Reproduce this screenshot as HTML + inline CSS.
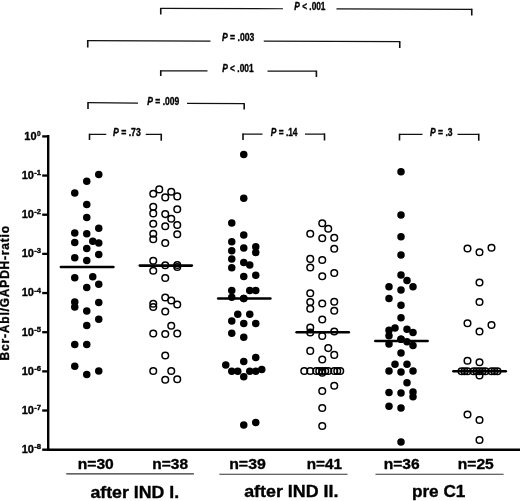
<!DOCTYPE html>
<html><head><meta charset="utf-8"><title>Bcr-Abl/GAPDH-ratio</title>
<style>
html,body{margin:0;padding:0;background:#fff;}
svg{display:block;}
text{font-family:"Liberation Sans",Arial,Helvetica,sans-serif;font-weight:bold;fill:#000;stroke:#000;stroke-width:0.35px;stroke-linejoin:round;}
.f{fill:#000;}
.o{fill:#fff;fill-opacity:0;stroke:#000;stroke-width:1.5;}
.br{fill:none;stroke:#111;stroke-width:1.25;}
.bt{fill:none;stroke:#111;stroke-width:1.6;}
.md{stroke:#000;stroke-width:2.6;stroke-linecap:round;}
.ax{stroke:#000;stroke-width:2.4;fill:none;}
.p{font-size:10px;}
.n{font-size:14.5px;}
.g{font-size:16.5px;}
.t{font-size:11px;}
.s{font-size:6.5px;}
</style></head><body>
<svg width="520" height="501" viewBox="0 0 520 501">
<rect x="0" y="0" width="520" height="501" fill="#fff"/>

<path class="br" d="M160.35,8.4 L283,8.75 M336.5,8.91 L472.15,9.3"/>
<path class="bt" d="M160.75,14.5 L160.75,7.9 M471.75,8.8 L471.75,15.5"/>
<path class="br" d="M87.35,40.6 L210.5,41.03 M263.75,41.22 L400.15,41.7"/>
<path class="bt" d="M87.75,47.5 L87.75,40.1 M399.75,41.2 L399.75,48"/>
<path class="br" d="M160.35,70.8 L207.5,70.92 M267.5,71.07 L316.79999999999995,71.2"/>
<path class="bt" d="M160.75,76 L160.75,70.3 M316.4,70.7 L316.4,77"/>
<path class="br" d="M87.6,102.7 L138,103.02 M187,103.33 L244.6,103.7"/>
<path class="bt" d="M88,108.9 L88,102.2 M244.2,103.2 L244.2,109.5"/>
<path class="br" d="M89.1,134.25 L106.25,134.25 M145.75,134.25 L161.65,134.25"/>
<path class="bt" d="M89.5,140 L89.5,133.75 M161.25,133.75 L161.25,140.75"/>
<path class="br" d="M242.6,134 L262.5,134.00 M305,134.00 L324.9,134"/>
<path class="bt" d="M243,140 L243,133.5 M324.5,133.5 L324.5,140.5"/>
<path class="br" d="M399.1,134.25 L422.5,134.25 M457.5,134.25 L479.15,134.25"/>
<path class="bt" d="M399.5,140.5 L399.5,133.75 M478.75,133.75 L478.75,140.75"/>
<text class="p" x="294.3" y="10.2" textLength="31.2" lengthAdjust="spacingAndGlyphs"><tspan font-style="italic">P</tspan> &lt; .001</text>
<text class="p" x="222" y="40.9" textLength="32.2" lengthAdjust="spacingAndGlyphs"><tspan font-style="italic">P</tspan> = .003</text>
<text class="p" x="222.2" y="72.3" textLength="31.4" lengthAdjust="spacingAndGlyphs"><tspan font-style="italic">P</tspan> &lt; .001</text>
<text class="p" x="147.3" y="104.6" textLength="32.0" lengthAdjust="spacingAndGlyphs"><tspan font-style="italic">P</tspan> = .009</text>
<text class="p" x="113" y="135.8" textLength="27.8" lengthAdjust="spacingAndGlyphs"><tspan font-style="italic">P</tspan> = .73</text>
<text class="p" x="270.75" y="135.8" textLength="26.8" lengthAdjust="spacingAndGlyphs"><tspan font-style="italic">P</tspan> = .14</text>
<text class="p" x="430" y="135.8" textLength="22.5" lengthAdjust="spacingAndGlyphs"><tspan font-style="italic">P</tspan> = .3</text>
<path class="ax" d="M48.2,135.1 L48.2,449.7 L520,449.7"/>
<line x1="42.2" y1="136.40" x2="48" y2="136.40" stroke="#000" stroke-width="2.3"/>
<text class="t" x="36.6" y="139.80" text-anchor="end">10</text><text class="s" x="36.9" y="135.90">0</text>
<line x1="42.2" y1="175.56" x2="48" y2="175.56" stroke="#000" stroke-width="2.3"/>
<text class="t" x="33.9" y="178.96" text-anchor="end">10</text><text class="s" x="34.2" y="175.06" textLength="6.8" lengthAdjust="spacingAndGlyphs">-1</text>
<line x1="42.2" y1="214.72" x2="48" y2="214.72" stroke="#000" stroke-width="2.3"/>
<text class="t" x="33.9" y="218.12" text-anchor="end">10</text><text class="s" x="34.2" y="214.22" textLength="6.8" lengthAdjust="spacingAndGlyphs">-2</text>
<line x1="42.2" y1="253.88" x2="48" y2="253.88" stroke="#000" stroke-width="2.3"/>
<text class="t" x="33.9" y="257.28" text-anchor="end">10</text><text class="s" x="34.2" y="253.38" textLength="6.8" lengthAdjust="spacingAndGlyphs">-3</text>
<line x1="42.2" y1="293.04" x2="48" y2="293.04" stroke="#000" stroke-width="2.3"/>
<text class="t" x="33.9" y="296.44" text-anchor="end">10</text><text class="s" x="34.2" y="292.54" textLength="6.8" lengthAdjust="spacingAndGlyphs">-4</text>
<line x1="42.2" y1="332.20" x2="48" y2="332.20" stroke="#000" stroke-width="2.3"/>
<text class="t" x="33.9" y="335.60" text-anchor="end">10</text><text class="s" x="34.2" y="331.70" textLength="6.8" lengthAdjust="spacingAndGlyphs">-5</text>
<line x1="42.2" y1="371.36" x2="48" y2="371.36" stroke="#000" stroke-width="2.3"/>
<text class="t" x="33.9" y="374.76" text-anchor="end">10</text><text class="s" x="34.2" y="370.86" textLength="6.8" lengthAdjust="spacingAndGlyphs">-6</text>
<line x1="42.2" y1="410.52" x2="48" y2="410.52" stroke="#000" stroke-width="2.3"/>
<text class="t" x="33.9" y="413.92" text-anchor="end">10</text><text class="s" x="34.2" y="410.02" textLength="6.8" lengthAdjust="spacingAndGlyphs">-7</text>
<line x1="42.2" y1="449.7" x2="48" y2="449.7" stroke="#000" stroke-width="2.4"/>
<text class="t" x="33.9" y="453.08" text-anchor="end">10</text><text class="s" x="34.2" y="449.18" textLength="6.8" lengthAdjust="spacingAndGlyphs">-8</text>
<text transform="translate(9.4,360.4) rotate(-90)" font-size="12px" textLength="134.5" lengthAdjust="spacing">Bcr-Abl/GAPDH-ratio</text>
<line class="md" x1="60.9" y1="267" x2="113.4" y2="267"/>
<line class="md" x1="139.8" y1="265.6" x2="191.8" y2="265.6"/>
<line class="md" x1="218.2" y1="298.5" x2="270.4" y2="298.5"/>
<line class="md" x1="296.6" y1="332.3" x2="348.8" y2="332.3"/>
<line class="md" x1="375.3" y1="341" x2="427.6" y2="341"/>
<line class="md" x1="453.4" y1="371.25" x2="505.8" y2="371.25"/>
<circle class="f" cx="98.75" cy="174.5" r="3.75"/>
<circle class="f" cx="86.75" cy="181.25" r="3.75"/>
<circle class="f" cx="74.75" cy="193" r="3.75"/>
<circle class="f" cx="86.75" cy="204.5" r="3.75"/>
<circle class="f" cx="86.75" cy="217.6" r="3.75"/>
<circle class="f" cx="98.75" cy="228.25" r="3.75"/>
<circle class="f" cx="74.75" cy="233" r="3.75"/>
<circle class="f" cx="86.75" cy="233.75" r="3.75"/>
<circle class="f" cx="92.75" cy="241.25" r="3.75"/>
<circle class="f" cx="74.75" cy="242.5" r="3.75"/>
<circle class="f" cx="98.75" cy="243" r="3.75"/>
<circle class="f" cx="86.75" cy="248.5" r="3.75"/>
<circle class="f" cx="98.75" cy="254.5" r="3.75"/>
<circle class="f" cx="74.75" cy="257.75" r="3.75"/>
<circle class="f" cx="86.75" cy="260.6" r="3.75"/>
<circle class="f" cx="74.75" cy="277.8" r="3.75"/>
<circle class="f" cx="92.75" cy="276.75" r="3.75"/>
<circle class="f" cx="98.75" cy="284.25" r="3.75"/>
<circle class="f" cx="86.75" cy="287.4" r="3.75"/>
<circle class="f" cx="74.75" cy="302" r="3.75"/>
<circle class="f" cx="98.75" cy="302.5" r="3.75"/>
<circle class="f" cx="74.75" cy="307" r="3.75"/>
<circle class="f" cx="86.75" cy="311" r="3.75"/>
<circle class="f" cx="98.75" cy="319.25" r="3.75"/>
<circle class="f" cx="86.75" cy="325.5" r="3.75"/>
<circle class="f" cx="74.75" cy="344.5" r="3.75"/>
<circle class="f" cx="86.75" cy="344.5" r="3.75"/>
<circle class="f" cx="74.75" cy="366.25" r="3.75"/>
<circle class="f" cx="98.75" cy="371" r="3.75"/>
<circle class="f" cx="86.75" cy="374.5" r="3.75"/>
<circle class="o" cx="159.25" cy="189.4" r="3.3"/>
<circle class="o" cx="153.25" cy="193.7" r="3.3"/>
<circle class="o" cx="171.25" cy="191.8" r="3.3"/>
<circle class="o" cx="165.25" cy="197.4" r="3.3"/>
<circle class="o" cx="177.25" cy="196.4" r="3.3"/>
<circle class="o" cx="153.25" cy="206.7" r="3.3"/>
<circle class="o" cx="177.25" cy="209.2" r="3.3"/>
<circle class="o" cx="153.25" cy="213.4" r="3.3"/>
<circle class="o" cx="165.25" cy="214.1" r="3.3"/>
<circle class="o" cx="171.25" cy="218.7" r="3.3"/>
<circle class="o" cx="153.25" cy="223.8" r="3.3"/>
<circle class="o" cx="177.25" cy="225" r="3.3"/>
<circle class="o" cx="165.25" cy="226.2" r="3.3"/>
<circle class="o" cx="153.25" cy="233.8" r="3.3"/>
<circle class="o" cx="177.25" cy="234.2" r="3.3"/>
<circle class="o" cx="153.25" cy="239.2" r="3.3"/>
<circle class="o" cx="165.25" cy="243" r="3.3"/>
<circle class="o" cx="153.25" cy="260.7" r="3.3"/>
<circle class="o" cx="165.25" cy="265.2" r="3.3"/>
<circle class="o" cx="177.25" cy="265" r="3.3"/>
<circle class="o" cx="177.25" cy="267" r="3.3"/>
<circle class="o" cx="153.25" cy="270.7" r="3.3"/>
<circle class="o" cx="165.25" cy="278" r="3.3"/>
<circle class="o" cx="165.25" cy="297.5" r="3.3"/>
<circle class="o" cx="171.25" cy="300.5" r="3.3"/>
<circle class="o" cx="153.25" cy="303.75" r="3.3"/>
<circle class="o" cx="177.25" cy="304.5" r="3.3"/>
<circle class="o" cx="153.25" cy="307" r="3.3"/>
<circle class="o" cx="165.25" cy="311.5" r="3.3"/>
<circle class="o" cx="171.25" cy="325.75" r="3.3"/>
<circle class="o" cx="153.25" cy="333.5" r="3.3"/>
<circle class="o" cx="165.25" cy="334" r="3.3"/>
<circle class="o" cx="177.25" cy="333.5" r="3.3"/>
<circle class="o" cx="165.25" cy="355.5" r="3.3"/>
<circle class="o" cx="153.25" cy="371" r="3.3"/>
<circle class="o" cx="171.25" cy="371" r="3.3"/>
<circle class="o" cx="165.25" cy="379.75" r="3.3"/>
<circle class="o" cx="177.25" cy="379.25" r="3.3"/>
<circle class="f" cx="243.75" cy="154.5" r="3.75"/>
<circle class="f" cx="243.75" cy="198.25" r="3.75"/>
<circle class="f" cx="231.75" cy="222.9" r="3.75"/>
<circle class="f" cx="243.75" cy="235" r="3.75"/>
<circle class="f" cx="231.75" cy="241.7" r="3.75"/>
<circle class="f" cx="243.75" cy="248" r="3.75"/>
<circle class="f" cx="255.75" cy="246.8" r="3.75"/>
<circle class="f" cx="231.75" cy="250.7" r="3.75"/>
<circle class="f" cx="255.75" cy="252.6" r="3.75"/>
<circle class="f" cx="231.75" cy="258.9" r="3.75"/>
<circle class="f" cx="243.75" cy="262.5" r="3.75"/>
<circle class="f" cx="249.75" cy="264.9" r="3.75"/>
<circle class="f" cx="231.75" cy="267.8" r="3.75"/>
<circle class="f" cx="255.75" cy="275.2" r="3.75"/>
<circle class="f" cx="243.75" cy="276.6" r="3.75"/>
<circle class="f" cx="231.75" cy="290.4" r="3.75"/>
<circle class="f" cx="249.75" cy="290.4" r="3.75"/>
<circle class="f" cx="255.75" cy="290.4" r="3.75"/>
<circle class="f" cx="231.75" cy="297.2" r="3.75"/>
<circle class="f" cx="243.75" cy="298.6" r="3.75"/>
<circle class="f" cx="237.75" cy="314.3" r="3.75"/>
<circle class="f" cx="249.75" cy="314.3" r="3.75"/>
<circle class="f" cx="231.75" cy="320.9" r="3.75"/>
<circle class="f" cx="243.75" cy="323.5" r="3.75"/>
<circle class="f" cx="255.75" cy="323.5" r="3.75"/>
<circle class="f" cx="231.75" cy="333.3" r="3.75"/>
<circle class="f" cx="243.75" cy="337.2" r="3.75"/>
<circle class="f" cx="255.75" cy="357.5" r="3.75"/>
<circle class="f" cx="243.75" cy="361.6" r="3.75"/>
<circle class="f" cx="225.75" cy="365" r="3.75"/>
<circle class="f" cx="231.75" cy="371.2" r="3.75"/>
<circle class="f" cx="237.75" cy="371.2" r="3.75"/>
<circle class="f" cx="249.75" cy="371.2" r="3.75"/>
<circle class="f" cx="255.75" cy="371.2" r="3.75"/>
<circle class="f" cx="261.75" cy="369.6" r="3.75"/>
<circle class="f" cx="243.75" cy="376.7" r="3.75"/>
<circle class="f" cx="243.75" cy="425" r="3.75"/>
<circle class="f" cx="255.75" cy="422.5" r="3.75"/>
<circle class="f" cx="243.75" cy="298.6" r="3.75"/>
<circle class="o" cx="322.25" cy="223.25" r="3.3"/>
<circle class="o" cx="328.25" cy="228.75" r="3.3"/>
<circle class="o" cx="310.25" cy="233.75" r="3.3"/>
<circle class="o" cx="322.25" cy="238.2" r="3.3"/>
<circle class="o" cx="334.25" cy="237.7" r="3.3"/>
<circle class="o" cx="334.25" cy="248.75" r="3.3"/>
<circle class="o" cx="310.25" cy="258.9" r="3.3"/>
<circle class="o" cx="322.25" cy="260" r="3.3"/>
<circle class="o" cx="310.25" cy="267.5" r="3.3"/>
<circle class="o" cx="334.25" cy="273" r="3.3"/>
<circle class="o" cx="322.25" cy="276.25" r="3.3"/>
<circle class="o" cx="310.25" cy="293.25" r="3.3"/>
<circle class="o" cx="310.25" cy="302" r="3.3"/>
<circle class="o" cx="322.25" cy="303.5" r="3.3"/>
<circle class="o" cx="334.25" cy="301.75" r="3.3"/>
<circle class="o" cx="310.25" cy="308.75" r="3.3"/>
<circle class="o" cx="334.25" cy="310.75" r="3.3"/>
<circle class="o" cx="322.25" cy="319.5" r="3.3"/>
<circle class="o" cx="310.25" cy="327.5" r="3.3"/>
<circle class="o" cx="310.25" cy="332.5" r="3.3"/>
<circle class="o" cx="334.25" cy="331.5" r="3.3"/>
<circle class="o" cx="322.25" cy="336" r="3.3"/>
<circle class="o" cx="328.25" cy="348.1" r="3.3"/>
<circle class="o" cx="310.25" cy="350.9" r="3.3"/>
<circle class="o" cx="334.25" cy="354.9" r="3.3"/>
<circle class="o" cx="322.25" cy="359.5" r="3.3"/>
<circle class="o" cx="304.25" cy="371" r="3.3"/>
<circle class="o" cx="310.25" cy="371" r="3.3"/>
<circle class="o" cx="316.25" cy="371" r="3.3"/>
<circle class="o" cx="319.25" cy="371" r="3.3"/>
<circle class="o" cx="322.25" cy="371" r="3.3"/>
<circle class="o" cx="322.25" cy="372.7" r="3.3"/>
<circle class="o" cx="325.25" cy="371" r="3.3"/>
<circle class="o" cx="328.25" cy="371" r="3.3"/>
<circle class="o" cx="334.25" cy="371" r="3.3"/>
<circle class="o" cx="337.25" cy="371" r="3.3"/>
<circle class="o" cx="340.25" cy="371" r="3.3"/>
<circle class="o" cx="334.25" cy="385.75" r="3.3"/>
<circle class="o" cx="322.25" cy="391" r="3.3"/>
<circle class="o" cx="322.25" cy="408" r="3.3"/>
<circle class="o" cx="322.25" cy="426" r="3.3"/>
<circle class="f" cx="401" cy="171.75" r="3.75"/>
<circle class="f" cx="401" cy="215" r="3.75"/>
<circle class="f" cx="401" cy="236.75" r="3.75"/>
<circle class="f" cx="401" cy="255" r="3.75"/>
<circle class="f" cx="401" cy="275" r="3.75"/>
<circle class="f" cx="407" cy="280.5" r="3.75"/>
<circle class="f" cx="389" cy="286.75" r="3.75"/>
<circle class="f" cx="413" cy="286.75" r="3.75"/>
<circle class="f" cx="401" cy="290" r="3.75"/>
<circle class="f" cx="389" cy="298.5" r="3.75"/>
<circle class="f" cx="401" cy="305.25" r="3.75"/>
<circle class="f" cx="401" cy="317.7" r="3.75"/>
<circle class="f" cx="395" cy="328" r="3.75"/>
<circle class="f" cx="389" cy="330.2" r="3.75"/>
<circle class="f" cx="407" cy="329.2" r="3.75"/>
<circle class="f" cx="413" cy="332.4" r="3.75"/>
<circle class="f" cx="389" cy="335.8" r="3.75"/>
<circle class="f" cx="401" cy="339.2" r="3.75"/>
<circle class="f" cx="407" cy="341.8" r="3.75"/>
<circle class="f" cx="389" cy="343.9" r="3.75"/>
<circle class="f" cx="413" cy="345.6" r="3.75"/>
<circle class="f" cx="401" cy="353" r="3.75"/>
<circle class="f" cx="395" cy="364.25" r="3.75"/>
<circle class="f" cx="407" cy="364.25" r="3.75"/>
<circle class="f" cx="389" cy="371" r="3.75"/>
<circle class="f" cx="401" cy="372" r="3.75"/>
<circle class="f" cx="413" cy="371" r="3.75"/>
<circle class="f" cx="407" cy="382.8" r="3.75"/>
<circle class="f" cx="389" cy="392.5" r="3.75"/>
<circle class="f" cx="401" cy="393" r="3.75"/>
<circle class="f" cx="413" cy="392" r="3.75"/>
<circle class="f" cx="413" cy="396.75" r="3.75"/>
<circle class="f" cx="389" cy="406.25" r="3.75"/>
<circle class="f" cx="401" cy="408" r="3.75"/>
<circle class="f" cx="401" cy="442" r="3.75"/>
<circle class="f" cx="401" cy="339.2" r="3.75"/>
<circle class="o" cx="467.5" cy="248.5" r="3.3"/>
<circle class="o" cx="479.5" cy="252.25" r="3.3"/>
<circle class="o" cx="491.5" cy="247.75" r="3.3"/>
<circle class="o" cx="479.5" cy="282.5" r="3.3"/>
<circle class="o" cx="479.5" cy="302" r="3.3"/>
<circle class="o" cx="467.5" cy="323.25" r="3.3"/>
<circle class="o" cx="491.5" cy="325" r="3.3"/>
<circle class="o" cx="479.5" cy="331.5" r="3.3"/>
<circle class="o" cx="467.5" cy="360.8" r="3.3"/>
<circle class="o" cx="479.5" cy="362.2" r="3.3"/>
<circle class="o" cx="461.5" cy="371.25" r="3.3"/>
<circle class="o" cx="464.5" cy="371.25" r="3.3"/>
<circle class="o" cx="467.5" cy="371.25" r="3.3"/>
<circle class="o" cx="473.5" cy="371.25" r="3.3"/>
<circle class="o" cx="476.5" cy="371.25" r="3.3"/>
<circle class="o" cx="479.5" cy="371.25" r="3.3"/>
<circle class="o" cx="482.5" cy="371.25" r="3.3"/>
<circle class="o" cx="485.5" cy="371.25" r="3.3"/>
<circle class="o" cx="491.5" cy="371.25" r="3.3"/>
<circle class="o" cx="494.5" cy="371.25" r="3.3"/>
<circle class="o" cx="497.5" cy="371.25" r="3.3"/>
<circle class="o" cx="479.5" cy="375.5" r="3.3"/>
<circle class="o" cx="467.5" cy="414.5" r="3.3"/>
<circle class="o" cx="479.5" cy="420" r="3.3"/>
<circle class="o" cx="479.5" cy="440" r="3.3"/>
<text class="n" x="77.75" y="469.3" textLength="36.0" lengthAdjust="spacingAndGlyphs">n=30</text>
<text class="n" x="152.3" y="469.2" textLength="35.7" lengthAdjust="spacingAndGlyphs">n=38</text>
<text class="n" x="229.2" y="469.1" textLength="36.6" lengthAdjust="spacingAndGlyphs">n=39</text>
<text class="n" x="306.7" y="469" textLength="35.3" lengthAdjust="spacingAndGlyphs">n=41</text>
<text class="n" x="383.7" y="468.9" textLength="35.9" lengthAdjust="spacingAndGlyphs">n=36</text>
<text class="n" x="457.8" y="468.8" textLength="36.0" lengthAdjust="spacingAndGlyphs">n=25</text>
<line x1="66.25" y1="473.9" x2="193.9" y2="473.9" stroke="#333" stroke-width="1.1"/>
<line x1="219.4" y1="474.2" x2="347.5" y2="474.2" stroke="#333" stroke-width="1.1"/>
<line x1="375.5" y1="474.3" x2="503.6" y2="474.3" stroke="#333" stroke-width="1.1"/>
<text class="g" x="90.4" y="498.1" textLength="88.8" lengthAdjust="spacingAndGlyphs">after IND I.</text>
<text class="g" x="244.2" y="497.2" textLength="94.3" lengthAdjust="spacingAndGlyphs">after IND II.</text>
<text class="g" x="411.9" y="496.5" textLength="53.5" lengthAdjust="spacingAndGlyphs">pre C1</text>
</svg></body></html>
